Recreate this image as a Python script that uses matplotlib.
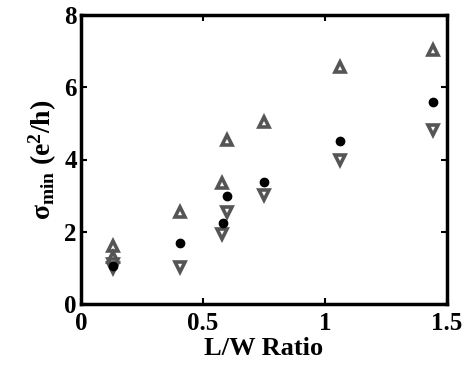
import matplotlib
matplotlib.use("Agg")
import matplotlib.pyplot as plt

plt.rcParams['font.family'] = ['Liberation Serif', 'DejaVu Serif']
plt.rcParams['font.weight'] = 'bold'
plt.rcParams['mathtext.fontset'] = 'custom'
plt.rcParams['mathtext.rm'] = 'Liberation Serif:bold'
plt.rcParams['mathtext.it'] = 'Liberation Serif:bold'
plt.rcParams['mathtext.bf'] = 'Liberation Serif:bold'

# L/W ratio and sigma_min values
x_up = [0.13, 0.13, 0.405, 0.577, 0.60, 0.751, 1.061, 1.444]
y_up = [1.6, 1.3, 2.54, 3.34, 4.54, 5.05, 6.56, 7.04]

x_dot = [0.13, 0.405, 0.58, 0.60, 0.751, 1.061, 1.444]
y_dot = [1.05, 1.70, 2.25, 2.99, 3.39, 4.51, 5.60]

x_down = [0.13, 0.13, 0.405, 0.577, 0.60, 0.751, 1.061, 1.444]
y_down = [1.1, 1.0, 1.03, 1.94, 2.54, 3.02, 4.0, 4.82]

fig = plt.figure(figsize=(4.7, 3.65), dpi=100)
ax = fig.add_axes([81/470, 1 - 304/365, 366/470, 289/365])

gray = '#555555'
ax.plot(x_up, y_up, linestyle='none', marker='^', markersize=7.5,
        markerfacecolor='white', markeredgecolor=gray, markeredgewidth=2.6)
ax.plot(x_down, y_down, linestyle='none', marker='v', markersize=7.5,
        markerfacecolor='white', markeredgecolor=gray, markeredgewidth=2.6)
ax.plot(x_dot, y_dot, linestyle='none', marker='o', markersize=6,
        color='black')

ax.set_xlim(0, 1.5)
ax.set_ylim(0, 8)
ax.set_xticks([0, 0.5, 1, 1.5])
ax.set_xticklabels(['0', '0.5', '1', '1.5'])
ax.set_yticks([0, 2, 4, 6, 8])

for s in ax.spines.values():
    s.set_linewidth(2.5)
ax.tick_params(direction='in', length=4, width=1.5, top=True, right=True,
               labelsize=18)
ax.tick_params(axis='x', pad=6)
ax.tick_params(axis='y', pad=3)
for lab in ax.get_xticklabels() + ax.get_yticklabels():
    lab.set_fontweight('bold')

ax.set_xlabel('L/W Ratio', fontsize=19, fontweight='bold', labelpad=1)
ax.set_ylabel(r'$\sigma_{\mathrm{min}}$ (e$^2$/h)', fontsize=20,
              fontweight='bold', labelpad=4)

fig.savefig('out.png', dpi=100)
